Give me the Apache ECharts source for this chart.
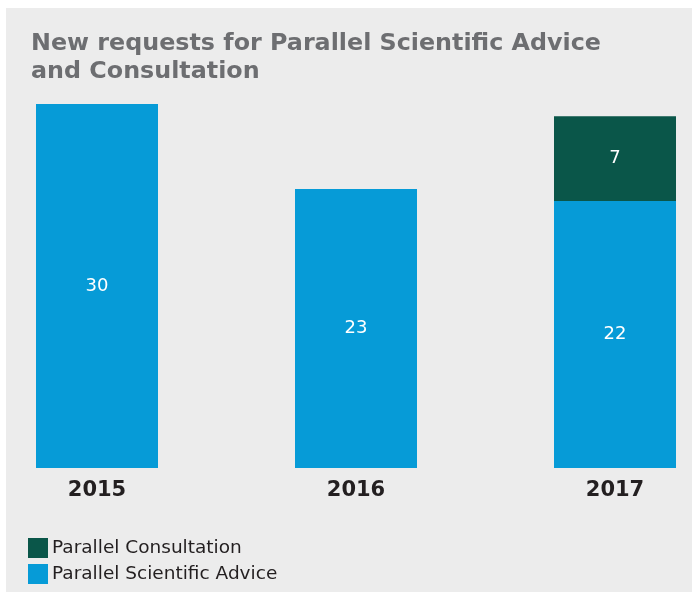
<!DOCTYPE html>
<html>
<head>
<meta charset="utf-8">
<script src="https://cdn.jsdelivr.net/npm/echarts@6/dist/echarts.min.js"></script>
<style>
  html, body { margin: 0; padding: 0; background: #ffffff; }
  #chart { width: 692px; height: 592px; }
</style>
</head>
<body>
<div id="chart"></div>
<script>
const years = ['2015', '2016', '2017'];
const scientificAdvice = [30, 23, 22];
const consultation = [null, null, 7];
const seriesNames = ['Parallel Scientific Advice', 'Parallel Consultation'];

const chart = echarts.init(document.getElementById('chart'));
const option = {
  animation: false,
  backgroundColor: '#ffffff',
  graphic: [{
    type: 'rect',
    z: -10,
    shape: { x: 6, y: 8, width: 700, height: 584 },
    style: { fill: '#ececec' }
  }],
  title: {
    text: 'New requests for Parallel Scientific Advice\nand Consultation',
    left: 31,
    top: 30,
    padding: 0,
    textStyle: {
      fontFamily: 'DejaVu Sans',
      fontWeight: 'bold',
      fontSize: 23.8,
      lineHeight: 28,
      color: '#6d6e71'
    }
  },
  legend: {
    orient: 'vertical',
    left: 28,
    top: 538,
    padding: 0,
    itemWidth: 20,
    itemHeight: 20,
    itemGap: 6,
    itemStyle: { borderWidth: 0 },
    icon: 'rect',
    data: [seriesNames[1], seriesNames[0]],
    textStyle: { fontFamily: 'DejaVu Sans', fontSize: 18.5, color: '#231f20', padding: [3, 0, 0, -1] }
  },
  grid: { left: -32.5, width: 777, top: 104, height: 364, outerBoundsMode: 'none', containLabel: false },
  xAxis: {
    type: 'category',
    data: years,
    axisLine: { show: false },
    axisTick: { show: false },
    axisLabel: {
      margin: 12,
      fontFamily: 'DejaVu Sans',
      fontWeight: 'bold',
      fontSize: 21,
      color: '#231f20'
    }
  },
  yAxis: { type: 'value', min: 0, max: 30, show: false, splitLine: { show: false } },
  series: [
    {
      name: seriesNames[0],
      type: 'bar',
      stack: 'total',
      data: scientificAdvice,
      barWidth: 122,
      itemStyle: { color: '#069bd7' },
      label: { show: true, position: 'inside', color: '#ffffff', fontFamily: 'DejaVu Sans', fontSize: 18 }
    },
    {
      name: seriesNames[1],
      type: 'bar',
      stack: 'total',
      data: consultation,
      barWidth: 122,
      itemStyle: { color: '#0a5649' },
      label: { show: true, position: 'inside', color: '#ffffff', fontFamily: 'DejaVu Sans', fontSize: 18 }
    }
  ]
};
chart.setOption(option);
</script>
</body>
</html>
